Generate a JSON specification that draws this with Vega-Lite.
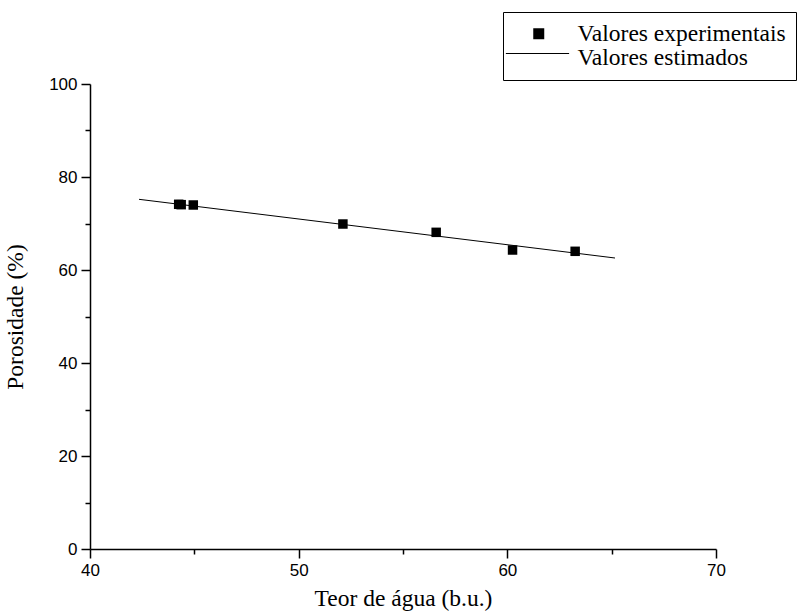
{
  "$schema": "https://vega.github.io/schema/vega-lite/v6.json",
  "width": 626,
  "height": 465,
  "padding": {"left": 90, "top": 84, "right": 87, "bottom": 62},
  "autosize": {"type": "none"},
  "background": "white",
  "config": {
    "view": {"stroke": null},
    "axis": {
      "grid": false,
      "domainColor": "black",
      "domainWidth": 1.5,
      "tickColor": "black",
      "tickWidth": 1.5,
      "tickSize": 9,
      "labelFont": "Liberation Sans",
      "labelFontSize": 17,
      "labelColor": "black",
      "titleFont": "Liberation Serif",
      "titleFontSize": 23.5,
      "titleFontWeight": "normal",
      "titleColor": "black"
    }
  },
  "datasets": {
    "exp": [
      {"teor": 44.25, "porosidade": 74.13, "serie": "Valores experimentais"},
      {"teor": 44.37, "porosidade": 74.05, "serie": "Valores experimentais"},
      {"teor": 44.95, "porosidade": 73.98, "serie": "Valores experimentais"},
      {"teor": 52.12, "porosidade": 69.89, "serie": "Valores experimentais"},
      {"teor": 56.59, "porosidade": 68.1, "serie": "Valores experimentais"},
      {"teor": 60.25, "porosidade": 64.3, "serie": "Valores experimentais"},
      {"teor": 63.25, "porosidade": 64.02, "serie": "Valores experimentais"}
    ],
    "est": [
      {"teor": 42.35, "porosidade": 75.2, "serie": "Valores estimados"},
      {"teor": 65.16, "porosidade": 62.58, "serie": "Valores estimados"}
    ]
  },
  "resolve": {"axis": {"x": "independent", "y": "independent"}},
  "layer": [
    {
      "data": {"name": "est"},
      "mark": {"type": "line", "strokeWidth": 1},
      "encoding": {
        "x": {
          "field": "teor", "type": "quantitative",
          "scale": {"domain": [40, 70], "nice": false, "zero": false},
          "axis": {
            "orient": "bottom",
            "title": "Teor de água (b.u.)", "values": [40, 50, 60, 70],
            "labelPadding": 4, "titlePadding": 8, "labelFlush": false
          }
        },
        "y": {
          "field": "porosidade", "type": "quantitative",
          "scale": {"domain": [0, 100], "nice": false},
          "axis": {
            "orient": "left",
            "title": "Porosidade (%)", "values": [0, 20, 40, 60, 80, 100],
            "labelPadding": 4, "titlePadding": 21, "labelFlush": false
          }
        },
        "color": {
          "field": "serie", "type": "nominal",
          "scale": {"domain": ["Valores estimados"], "range": ["black"]},
          "legend": {
            "title": null,
            "orient": "none",
            "legendX": 415,
            "legendY": -63,
            "padding": 0,
            "symbolType": "stroke",
            "symbolSize": 4000,
            "symbolStrokeWidth": 1,
            "symbolOffset": 0,
            "labelOffset": 0,
            "labelFontSize": 1,
            "labelOpacity": 0,
            "labelLimit": 1
          }
        }
      }
    },
    {
      "data": {"name": "exp"},
      "mark": {"type": "point", "filled": true, "opacity": 1, "size": 90, "color": "black"},
      "encoding": {
        "x": {
          "field": "teor", "type": "quantitative",
          "axis": {"orient": "bottom", "title": null, "values": [45, 55, 65], "labels": false, "domain": false, "tickSize": 5}
        },
        "y": {
          "field": "porosidade", "type": "quantitative",
          "axis": {"orient": "left", "title": null, "values": [10, 30, 50, 70, 90], "labels": false, "domain": false, "tickSize": 5}
        },
        "shape": {
          "field": "serie", "type": "nominal",
          "scale": {"domain": ["Valores experimentais", "Valores estimados"], "range": ["square", "stroke"]},
          "legend": {
            "title": null,
            "orient": "none",
            "legendX": 413,
            "legendY": -72,
            "strokeColor": "black",
            "padding": 10,
            "rowPadding": -3.5,
            "symbolSize": 121,
            "symbolFillColor": "black",
            "labelFont": "Liberation Serif",
            "labelFontSize": 23.5,
            "labelColor": "black",
            "labelOffset": 27,
            "labelLimit": 0,
            "symbolOffset": 14
          }
        }
      }
    }
  ]
}
